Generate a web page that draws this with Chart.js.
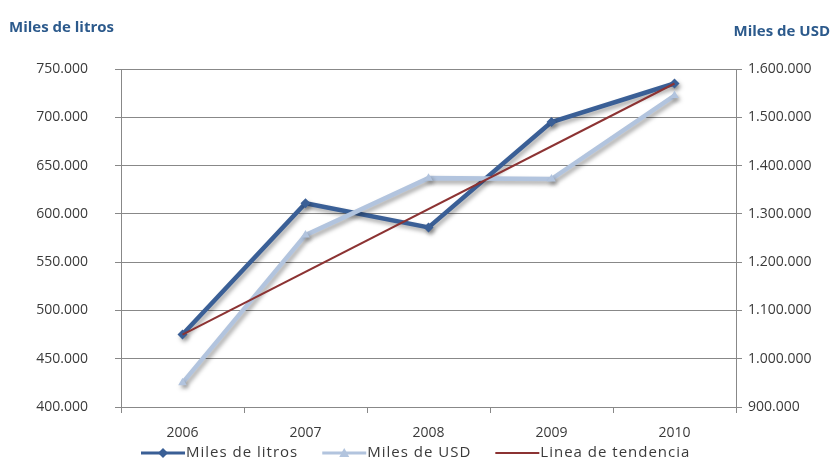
<!DOCTYPE html>
<html>
<head>
<meta charset="utf-8">
<script src="https://cdn.jsdelivr.net/npm/chart.js@4.4.1/dist/chart.umd.min.js"></script>
<style>
  html, body { margin: 0; padding: 0; background: #ffffff; }
  #wrap { width: 839px; height: 464px; position: relative; }
</style>
</head>
<body>
<div id="wrap"><canvas id="chart" width="839" height="464"></canvas></div>
<script>
// Categories and series
const years = ['2006', '2007', '2008', '2009', '2010'];
const milesLitros = [475000, 611000, 586000, 695000, 735000];
const milesUSD = [950000, 1256000, 1374000, 1372000, 1545000];
// Trend line: straight segment between first and last year of "Miles de litros"
const tendencia = [475000, null, null, null, 735000];

// Axis tick labels
const litrosTicks = [400000, 450000, 500000, 550000, 600000, 650000, 700000, 750000];
const usdTicks = [900000, 1000000, 1100000, 1200000, 1300000, 1400000, 1500000, 1600000];

const seriesNames = ['Miles de litros', 'Miles de USD', 'Linea de tendencia'];
const axisTitleLeft = 'Miles de litros';
const axisTitleRight = 'Miles de USD';

const COL_LITROS = '#3A5F96';
const COL_USD = '#B2C4DE';
const COL_TREND = '#8C3333';
const COL_GRID = '#888888';
const COL_TEXT = '#3A3A3A';
const COL_TITLE = '#2C5A8C';
const FONT = "'Open Sans', 'Liberation Sans', sans-serif";

const W = 839, H = 464;
const PLOT_LEFT = 121, PLOT_RIGHT = 736, PLOT_TOP = 69, PLOT_BOTTOM = 407;

function fmt(v) {
  return String(v).replace(/\B(?=(\d{3})+(?!\d))/g, '.');
}

// Drop shadow beneath the two main series
const shadowPlugin = {
  id: 'seriesShadow',
  beforeDatasetDraw(chart, args) {
    const ds = chart.data.datasets[args.index];
    if (!ds.shadow) return;
    const ctx = chart.ctx;
    ctx.save();
    ctx.shadowColor = 'rgba(0,0,0,0.35)';
    ctx.shadowBlur = 4;
    ctx.shadowOffsetX = 2;
    ctx.shadowOffsetY = 3;
  },
  afterDatasetDraw(chart, args) {
    const ds = chart.data.datasets[args.index];
    if (!ds.shadow) return;
    chart.ctx.restore();
  }
};

// Axis titles above each value axis and the legend row underneath
const decorPlugin = {
  id: 'decor',
  afterDraw(chart) {
    const ctx = chart.ctx;
    ctx.save();
    ctx.fillStyle = COL_TITLE;
    ctx.font = "bold 15px " + FONT;
    ctx.textBaseline = 'middle';
    ctx.textAlign = 'left';
    ctx.fillText(axisTitleLeft, 9, 28);
    ctx.textAlign = 'right';
    ctx.fillText(axisTitleRight, 830, 32);

    // legend row
    ctx.font = "15px " + FONT;
    if ('letterSpacing' in ctx) ctx.letterSpacing = '1px';
    ctx.textAlign = 'left';
    let x = 141;
    const y = 453;
    const sorted = chart.data.datasets.slice().sort((a, b) => a.legendIndex - b.legendIndex);
    sorted.forEach((ds) => {
      const sw = 44;
      ctx.strokeStyle = ds.borderColor;
      ctx.lineWidth = ds.legendLine;
      ctx.beginPath();
      ctx.moveTo(x, y);
      ctx.lineTo(x + sw, y);
      ctx.stroke();
      const cx = x + sw / 2;
      ctx.fillStyle = ds.borderColor;
      if (ds.pointStyle === 'rectRot') {
        ctx.beginPath();
        ctx.moveTo(cx, y - 5); ctx.lineTo(cx + 5, y); ctx.lineTo(cx, y + 5); ctx.lineTo(cx - 5, y);
        ctx.closePath(); ctx.fill();
      } else if (ds.pointStyle === 'triangle') {
        ctx.beginPath();
        ctx.moveTo(cx, y - 5); ctx.lineTo(cx + 5, y + 4); ctx.lineTo(cx - 5, y + 4);
        ctx.closePath(); ctx.fill();
      }
      ctx.fillStyle = COL_TEXT;
      ctx.fillText(ds.label, x + sw + 1, y);
      x += sw + 1 + ctx.measureText(ds.label).width + 24;
    });
    ctx.restore();
  }
};

const ctx = document.getElementById('chart').getContext('2d');
new Chart(ctx, {
  type: 'line',
  data: {
    labels: years,
    datasets: [
      {
        label: seriesNames[2],
        data: tendencia,
        yAxisID: 'y',
        borderColor: COL_TREND,
        backgroundColor: COL_TREND,
        borderWidth: 2,
        pointRadius: 0,
        spanGaps: true,
        tension: 0,
        order: 0,
        legendIndex: 2,
        legendLine: 2,
        shadow: false
      },
      {
        label: seriesNames[1],
        data: milesUSD,
        yAxisID: 'y1',
        borderColor: COL_USD,
        backgroundColor: COL_USD,
        borderWidth: 4.5,
        pointStyle: 'triangle',
        pointRadius: 5,
        pointBorderWidth: 0,
        pointBackgroundColor: COL_USD,
        tension: 0,
        order: 1,
        legendIndex: 1,
        legendLine: 3,
        shadow: true
      },
      {
        label: seriesNames[0],
        data: milesLitros,
        yAxisID: 'y',
        borderColor: COL_LITROS,
        backgroundColor: COL_LITROS,
        borderWidth: 4.5,
        pointStyle: 'rectRot',
        pointRadius: 5,
        pointBorderWidth: 0,
        pointBackgroundColor: COL_LITROS,
        tension: 0,
        order: 2,
        legendIndex: 0,
        legendLine: 3,
        shadow: true
      }
    ]
  },
  options: {
    responsive: false,
    devicePixelRatio: 1,
    animation: false,
    layout: { padding: { top: PLOT_TOP, left: 0, right: 0, bottom: 0 } },
    plugins: {
      legend: { display: false },
      tooltip: { enabled: false },
      title: { display: false }
    },
    scales: {
      x: {
        offset: true,
        grid: { display: true, offset: true, drawOnChartArea: false, tickLength: 6, color: COL_GRID },
        border: { display: true, color: COL_GRID },
        ticks: { color: COL_TEXT, font: { family: FONT, size: 14 }, padding: 12, maxRotation: 0 },
        afterFit(scale) { scale.height = H - PLOT_BOTTOM; }
      },
      y: {
        position: 'left',
        min: litrosTicks[0],
        max: litrosTicks[litrosTicks.length - 1],
        afterBuildTicks(scale) { scale.ticks = litrosTicks.map(v => ({ value: v })); },
        grid: { color: COL_GRID, tickLength: 6 },
        border: { display: true, color: COL_GRID },
        ticks: { color: COL_TEXT, font: { family: FONT, size: 14 }, padding: 27, callback: (v) => fmt(v) },
        afterFit(scale) { scale.width = PLOT_LEFT; }
      },
      y1: {
        position: 'right',
        min: usdTicks[0],
        max: usdTicks[usdTicks.length - 1],
        afterBuildTicks(scale) { scale.ticks = usdTicks.map(v => ({ value: v })); },
        grid: { drawOnChartArea: false, color: COL_GRID, tickLength: 6 },
        border: { display: true, color: COL_GRID },
        ticks: { color: COL_TEXT, font: { family: FONT, size: 14 }, padding: 6, callback: (v) => fmt(v) },
        afterFit(scale) { scale.width = W - PLOT_RIGHT; }
      }
    }
  },
  plugins: [shadowPlugin, decorPlugin]
});
</script>
</body>
</html>
